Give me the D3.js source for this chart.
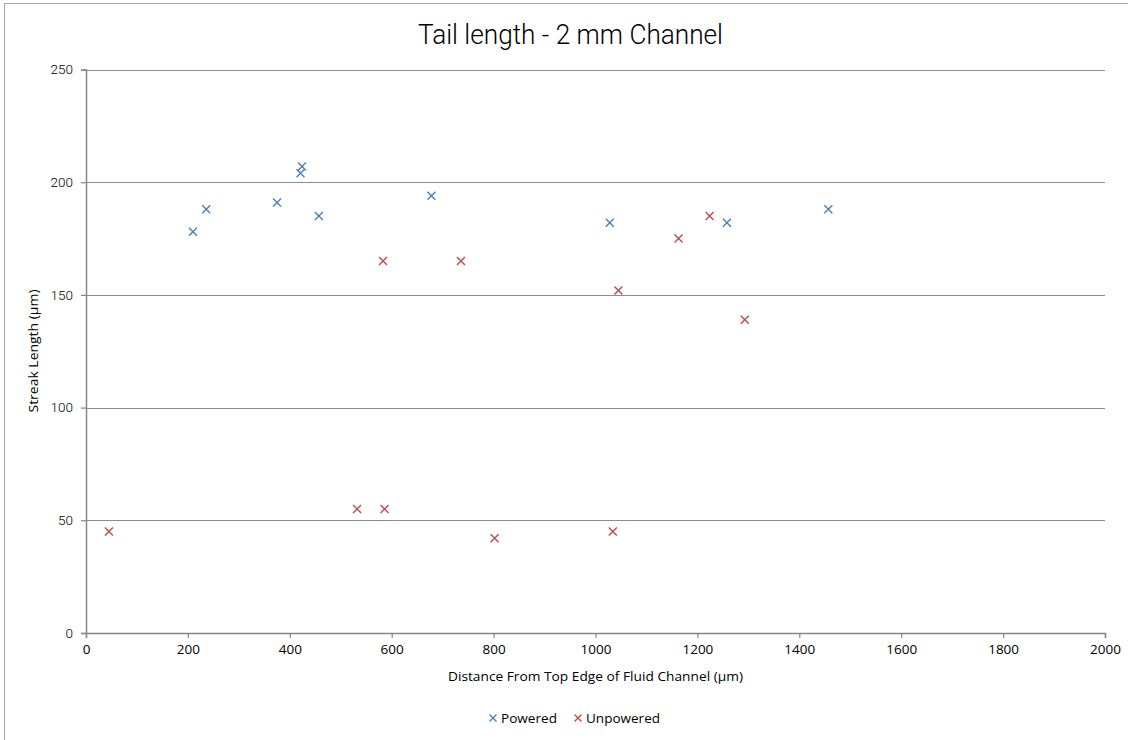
<!DOCTYPE html>
<html>
<head>
<meta charset="utf-8">
<script src="https://cdn.jsdelivr.net/npm/d3@7"></script>
<style>
  html, body { margin: 0; padding: 0; background: #fff; }
  svg { display: block; }
</style>
</head>
<body>
<svg id="chart" width="1128" height="740"></svg>
<script>
// Streak length measurements against distance from the top channel edge
const poweredX   = [210, 236, 375, 421, 424, 457, 678, 1028, 1258, 1457];
const poweredY   = [178, 188, 191, 204, 207, 185, 194, 182, 182, 188];
const unpoweredX = [45, 532, 586, 583, 736, 802, 1034, 1045, 1163, 1224, 1293];
const unpoweredY = [45, 55, 55, 165, 165, 42, 45, 152, 175, 185, 139];
const xTicks = [0, 200, 400, 600, 800, 1000, 1200, 1400, 1600, 1800, 2000];
const yTicks = [0, 50, 100, 150, 200, 250];

const series = [
  { name: "Powered",   color: "#4a7ebb", xs: poweredX,   ys: poweredY },
  { name: "Unpowered", color: "#be4b48", xs: unpoweredX, ys: unpoweredY }
];

const svg = d3.select("#chart");
const font = "'Open Sans', 'Lato', sans-serif";
const narrow = "'Roboto', 'Liberation Sans', sans-serif";

// outer chart frame
svg.append("rect")
  .attr("x", 4.5).attr("y", 3.5)
  .attr("width", 1300).attr("height", 1000)
  .attr("fill", "none").attr("stroke", "#a6a6a6").attr("stroke-width", 1);

const x = d3.scaleLinear().domain([0, 2000]).range([86, 1105]);
const y = d3.scaleLinear().domain([0, 250]).range([633, 69.5]);

// horizontal gridlines
svg.append("g")
  .selectAll("line")
  .data(yTicks.filter(d => d > 0))
  .join("line")
  .attr("x1", x(0)).attr("x2", x(2000))
  .attr("y1", d => Math.round(y(d)) + 0.5).attr("y2", d => Math.round(y(d)) + 0.5)
  .attr("stroke", "#8c8c8c").attr("stroke-width", 1.2);

// y axis
const yAxis = svg.append("g")
  .attr("transform", `translate(${x(0)},0)`)
  .call(d3.axisLeft(y).tickValues(yTicks).tickFormat(d3.format("d")).tickSize(5).tickPadding(8));
yAxis.select(".domain").attr("stroke", "#868686").attr("stroke-width", 1.5);
yAxis.selectAll(".tick line").attr("stroke", "#868686").attr("stroke-width", 1.2);
yAxis.selectAll(".tick text")
  .attr("font-family", narrow).attr("font-weight", 300)
  .attr("font-size", 13.5).attr("fill", "#000");

// x axis
const xAxis = svg.append("g")
  .attr("transform", `translate(0,${y(0)})`)
  .call(d3.axisBottom(x).tickValues(xTicks).tickFormat(d3.format("d")).tickSize(5).tickPadding(6));
xAxis.select(".domain").attr("stroke", "#868686").attr("stroke-width", 1.5);
xAxis.selectAll(".tick line").attr("stroke", "#868686").attr("stroke-width", 1.2);
xAxis.selectAll(".tick text")
  .attr("font-family", font).attr("font-size", 13.5).attr("fill", "#000");

// title, set in a condensed light face
svg.append("text")
  .attr("x", 570.5).attr("y", 44)
  .attr("text-anchor", "middle")
  .attr("font-family", narrow).attr("font-weight", 300)
  .attr("font-size", 27).attr("fill", "#000")
  .attr("textLength", 305).attr("lengthAdjust", "spacingAndGlyphs")
  .text("Tail length - 2 mm Channel");

// axis titles
svg.append("text")
  .attr("x", 595.5).attr("y", 681)
  .attr("text-anchor", "middle")
  .attr("font-family", font).attr("font-size", 13.5).attr("fill", "#000")
  .attr("textLength", 295).attr("lengthAdjust", "spacingAndGlyphs")
  .text("Distance From Top Edge of Fluid Channel (µm)");

svg.append("text")
  .attr("transform", "translate(38,351) rotate(-90)")
  .attr("text-anchor", "middle")
  .attr("font-family", font).attr("font-size", 13.5).attr("fill", "#000")
  .attr("textLength", 123).attr("lengthAdjust", "spacingAndGlyphs")
  .text("Streak Length (µm)");

// x-shaped markers
const cross = (g, cx, cy, r, color) => {
  g.append("path")
    .attr("d", `M${cx - r},${cy - r}L${cx + r},${cy + r}M${cx - r},${cy + r}L${cx + r},${cy - r}`)
    .attr("stroke", color).attr("stroke-width", 1.4).attr("fill", "none");
};

series.forEach(s => {
  const g = svg.append("g").attr("class", "series");
  s.xs.forEach((v, i) => cross(g, x(v), y(s.ys[i]), 4, s.color));
});

// legend
const legendItems = [
  { s: series[0], mx: 493, tx: 501, w: 56 },
  { s: series[1], mx: 578, tx: 586, w: 74 }
];
legendItems.forEach(it => {
  const g = svg.append("g");
  cross(g, it.mx, 718, 3.5, it.s.color);
  g.append("text")
    .attr("x", it.tx).attr("y", 723)
    .attr("font-family", font).attr("font-size", 13.5).attr("fill", "#000")
    .attr("textLength", it.w).attr("lengthAdjust", "spacingAndGlyphs")
    .text(it.s.name);
});
</script>
</body>
</html>
